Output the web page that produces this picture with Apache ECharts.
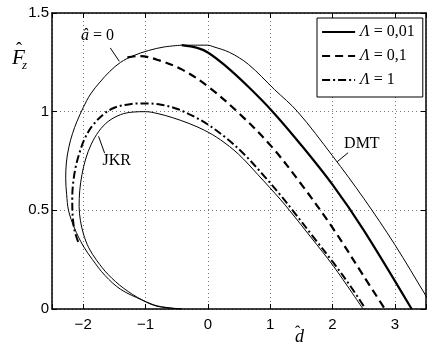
<!DOCTYPE html>
<html>
<head>
<meta charset="utf-8">
<script src="https://cdn.jsdelivr.net/npm/echarts@6/dist/echarts.min.js"></script>
<style>
html, body { margin: 0; padding: 0; background: #fff; }
#chart { width: 429px; height: 344px; }
</style>
</head>
<body>
<div id="chart"></div>
<script>
// Normalised force F̂z against normalised approach d̂ (Maugis–Dugdale transition)

// Boundary curve â = 0 (lower branch up to the common maximum)
const aZeroX = [-0.42, -0.80, -1.05, -1.40, -1.65, -1.85, -2.00, -2.14, -2.235, -2.265, -2.28, -2.27, -2.23, -2.17, -2.10, -2.00, -1.88, -1.73, -1.57, -1.40, -1.20, -0.95, -0.70, -0.42];
const aZeroY = [0.000, 0.015, 0.045, 0.100, 0.170, 0.250, 0.320, 0.410, 0.500, 0.580, 0.660, 0.740, 0.820, 0.890, 0.950, 1.020, 1.090, 1.150, 1.205, 1.250, 1.283, 1.310, 1.328, 1.337];

// DMT limit
const dmtX = [-0.42, 0.00, 0.08, 0.35, 0.65, 1.07, 1.44, 2.00, 2.50, 3.00, 3.50, 3.60];
const dmtY = [1.337, 1.337, 1.330, 1.300, 1.240, 1.112, 1.000, 0.776, 0.561, 0.326, 0.066, 0.014];

// JKR limit
const jkrX = [-0.42, -0.80, -1.05, -1.35, -1.60, -1.78, -1.91, -1.995, -2.045, -2.065, -2.055, -2.02, -1.96, -1.87, -1.75, -1.60, -1.40, -1.20, -1.00, -0.80, -0.57, -0.30, -0.05, 0.20, 0.49, 0.80, 1.17, 1.31, 1.65, 2.02, 2.49];
const jkrY = [0.000, 0.013, 0.045, 0.105, 0.175, 0.245, 0.310, 0.380, 0.450, 0.520, 0.600, 0.680, 0.760, 0.835, 0.900, 0.950, 0.985, 0.998, 1.000, 0.990, 0.970, 0.940, 0.905, 0.858, 0.785, 0.682, 0.553, 0.500, 0.365, 0.215, 0.000];

// Λ = 0,01
const lam001X = [-0.42, -0.17, 0.00, 0.28, 0.65, 1.04, 1.50, 2.00, 2.50, 3.27];
const lam001Y = [1.337, 1.323, 1.300, 1.233, 1.126, 1.000, 0.830, 0.630, 0.400, 0.000];

// Λ = 0,1
const lam01X = [-1.29, -1.10, -0.80, -0.41, 0.00, 0.49, 1.02, 1.50, 2.00, 2.50, 2.84];
const lam01Y = [1.275, 1.282, 1.262, 1.213, 1.128, 0.995, 0.824, 0.632, 0.412, 0.167, 0.000];

// Λ = 1
const lam1X = [-2.08, -2.14, -2.17, -2.175, -2.16, -2.12, -2.06, -1.98, -1.86, -1.68, -1.50, -1.25, -1.00, -0.75, -0.50, -0.25, 0.00, 0.30, 0.59, 0.90, 1.17, 1.36, 1.70, 2.02, 2.30, 2.53];
const lam1Y = [0.340, 0.400, 0.480, 0.560, 0.640, 0.720, 0.790, 0.860, 0.925, 0.985, 1.020, 1.038, 1.042, 1.035, 1.015, 0.980, 0.935, 0.865, 0.782, 0.675, 0.575, 0.500, 0.362, 0.232, 0.110, 0.000];

const legendNames = ['Λ = 0,01', 'Λ = 0,1', 'Λ = 1'];
const dashShort = [8, 5];
const dashDot = [8, 3, 2, 3];

// Curve annotations (data coordinates) with their leader lines
const notes = [
  { text: '{i|â} = 0', at: [-1.77, 1.386], from: [-1.565, 1.323], to: [-1.42, 1.255] },
  { text: 'JKR',       at: [-1.463, 0.751], from: [-1.656, 0.790], to: [-1.753, 0.875] },
  { text: 'DMT',       at: [2.471, 0.838], from: [2.25, 0.792], to: [2.075, 0.746] }
];

const pair = (xs, ys) => xs.map((x, i) => [x, ys[i]]);

const SERIF = '"Liberation Serif", "Times New Roman", serif';
const SANS = '"Liberation Sans", Arial, Helvetica, sans-serif';

const chart = echarts.init(document.getElementById('chart'), null, { renderer: 'canvas' });

const thin = { color: '#000', width: 1, type: 'solid' };
const curve = { type: 'line', showSymbol: false, symbol: 'none', smooth: 0.35, color: '#000' };

const option = {
  animation: false,
  backgroundColor: '#fff',
  grid: { left: 52, right: 2, top: 13, bottom: 35, containLabel: false },
  xAxis: [
    {
      type: 'value', min: -2.5, max: 3.5, splitNumber: 6,
      axisLine: { show: true, onZero: false, lineStyle: { color: '#000', width: 1.5 } },
      axisTick: { show: true, inside: true, length: 5, lineStyle: { color: '#000', width: 1 } },
      axisLabel: {
        color: '#000', fontFamily: SANS, fontSize: 15, margin: 8,
        formatter: v => Number.isInteger(v) ? String(v).replace('-', '−') : ''
      },
      splitLine: { show: true, lineStyle: { color: '#777', width: 1, type: [1, 3] } }
    },
    {
      type: 'value', position: 'top', min: -2.5, max: 3.5, splitNumber: 6,
      axisLine: { show: true, onZero: false, lineStyle: { color: '#000', width: 1.5 } },
      axisTick: { show: true, inside: true, length: 5, lineStyle: { color: '#000', width: 1 } },
      axisLabel: { show: false },
      splitLine: { show: false }
    }
  ],
  yAxis: [
    {
      type: 'value', min: 0, max: 1.5, interval: 0.5,
      axisLine: { show: true, onZero: false, lineStyle: { color: '#000', width: 1.5 } },
      axisTick: { show: true, inside: true, length: 5, lineStyle: { color: '#000', width: 1 } },
      axisLabel: { color: '#000', fontFamily: SANS, fontSize: 15, margin: 3 },
      splitLine: { show: true, lineStyle: { color: '#777', width: 1, type: [1, 3] } }
    },
    {
      type: 'value', position: 'right', min: 0, max: 1.5, interval: 0.5,
      axisLine: { show: true, onZero: false, lineStyle: { color: '#000', width: 1.5 } },
      axisTick: { show: true, inside: true, length: 5, lineStyle: { color: '#000', width: 1 } },
      axisLabel: { show: false },
      splitLine: { show: false }
    }
  ],
  legend: {
    data: [
      { name: legendNames[0], lineStyle: { type: 'solid', width: 2.2 } },
      { name: legendNames[1], lineStyle: { type: dashShort, width: 2.2 } },
      { name: legendNames[2], lineStyle: { type: dashDot, width: 2 } }
    ],
    orient: 'vertical',
    left: 317, top: 18,
    padding: [6, 8, 9, 4],
    itemWidth: 33, itemHeight: 14, itemGap: 8,
    backgroundColor: '#fff',
    borderColor: '#000', borderWidth: 1, borderRadius: 0,
    selectedMode: false,
    itemStyle: { opacity: 0 },
    formatter: n => '{i|Λ}' + n.slice(1),
    textStyle: {
      color: '#000', fontFamily: SERIF, fontSize: 16, lineHeight: 14,
      rich: { i: { fontStyle: 'italic', fontFamily: SERIF, fontSize: 16, color: '#000' } }
    }
  },
  series: [
    Object.assign({ name: 'aZero', data: pair(aZeroX, aZeroY), lineStyle: thin, z: 3 }, curve),
    Object.assign({ name: 'DMT', data: pair(dmtX, dmtY), lineStyle: thin, z: 3 }, curve),
    Object.assign({ name: 'JKR', data: pair(jkrX, jkrY), lineStyle: thin, z: 3 }, curve),
    Object.assign({ name: legendNames[0], data: pair(lam001X, lam001Y), lineStyle: { color: '#000', width: 2.2, type: 'solid' }, z: 4 }, curve),
    Object.assign({ name: legendNames[1], data: pair(lam01X, lam01Y), lineStyle: { color: '#000', width: 2.2, type: dashShort }, z: 4 }, curve),
    Object.assign({ name: legendNames[2], data: pair(lam1X, lam1Y), lineStyle: { color: '#000', width: 2, type: dashDot }, z: 4 }, curve)
  ]
};

chart.setOption(option);

// Axis titles and curve annotations
const px = p => chart.convertToPixel({ gridIndex: 0 }, p);
const graphics = [
  { type: 'text', left: 12, top: 48, z: 10, style: { text: 'F', fontFamily: SERIF, fontStyle: 'italic', fontSize: 21, fill: '#000' } },
  { type: 'text', left: 16, top: 41, z: 10, style: { text: 'ˆ', fontFamily: SERIF, fontSize: 18, fill: '#000' } },
  { type: 'text', left: 22, top: 59, z: 10, style: { text: 'z', fontFamily: SERIF, fontStyle: 'italic', fontSize: 13, fill: '#000' } },
  { type: 'text', left: 295, top: 328, z: 10, style: { text: 'd', fontFamily: SERIF, fontStyle: 'italic', fontSize: 18, fill: '#000' } },
  { type: 'text', left: 295, top: 325, z: 10, style: { text: 'ˆ', fontFamily: SERIF, fontSize: 16, fill: '#000' } }
];
notes.forEach(n => {
  const c = px(n.at), a = px(n.from), b = px(n.to);
  graphics.push({
    type: 'text', x: c[0], y: c[1], z: 10,
    style: {
      text: n.text, fontFamily: SERIF, fontSize: 16, fill: '#000', align: 'center', verticalAlign: 'middle',
      rich: { i: { fontStyle: 'italic', fontFamily: SERIF, fontSize: 16, fill: '#000' } }
    }
  });
  graphics.push({
    type: 'line', z: 10,
    shape: { x1: a[0], y1: a[1], x2: b[0], y2: b[1] },
    style: { stroke: '#000', lineWidth: 1 }
  });
});
chart.setOption({ graphic: graphics });
</script>
</body>
</html>
